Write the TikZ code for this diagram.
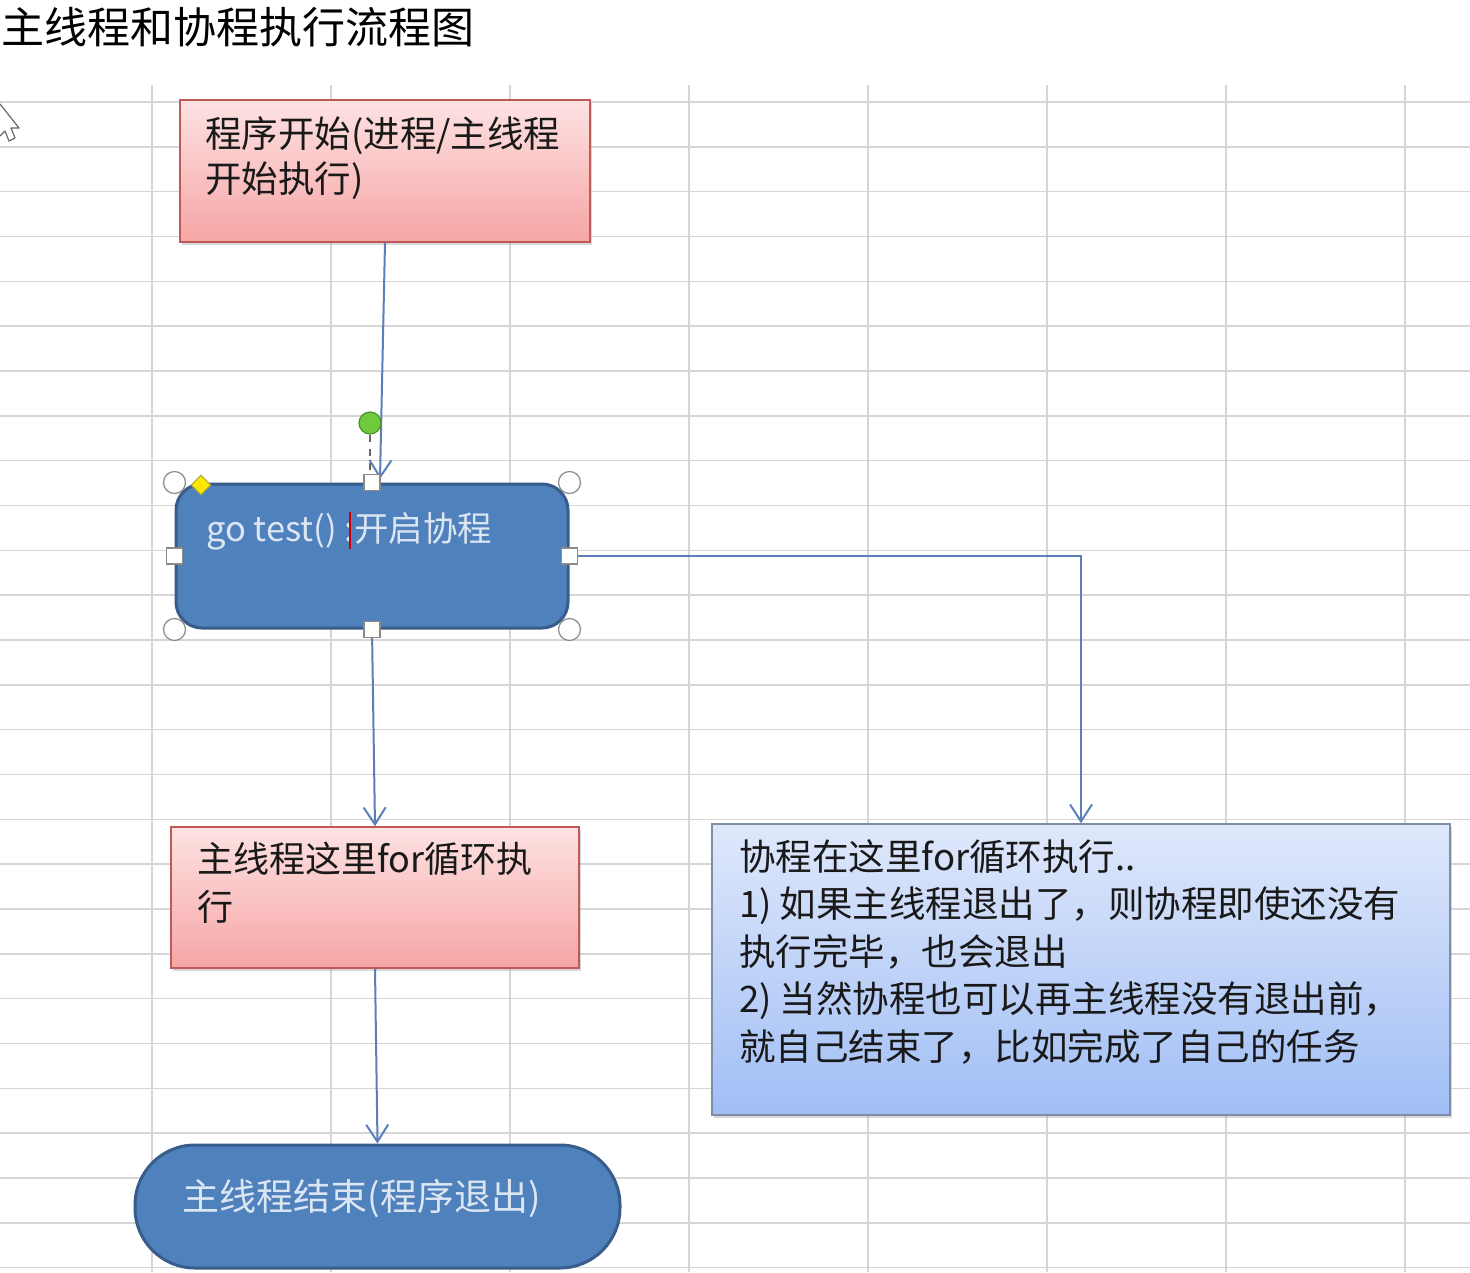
\documentclass[tikz,border=0pt]{standalone}
\usepackage{fontspec}
\setmainfont{Noto Sans CJK SC}
\usetikzlibrary{arrows.meta,shadows,calc,shapes.geometric}
\definecolor{gridc}{HTML}{D6D6D6}
\definecolor{pinktop}{HTML}{FDE2E2}
\definecolor{pinkbot}{HTML}{F6A5A5}
\definecolor{pinkline}{HTML}{BE5A57}
\definecolor{bluetop}{HTML}{DFE8FB}
\definecolor{bluebot}{HTML}{A0BEF5}
\definecolor{blueline}{HTML}{7E8EA6}
\definecolor{shapefill}{HTML}{4F81BD}
\definecolor{shapeline}{HTML}{385D8A}
\definecolor{shapetext}{HTML}{DCE6F2}
\definecolor{connc}{HTML}{5B80B9}
\definecolor{handlec}{HTML}{8A8A8A}
\definecolor{rotfill}{HTML}{6FCB3C}
\definecolor{rotline}{HTML}{4A8F2A}
\begin{document}
\begin{tikzpicture}[x=1pt,y=-1pt,
  gridline/.style={draw=gridc, line width=1.5pt},
  pinkbox/.style={rectangle, draw=pinkline, line width=1.5pt, top color=pinktop, bottom color=pinkbot, inner sep=0pt,
    drop shadow={shadow xshift=2pt, shadow yshift=-3pt, opacity=0.3}},
  notebox/.style={rectangle, draw=blueline, line width=1.5pt, top color=bluetop, bottom color=bluebot, inner sep=0pt,
    drop shadow={shadow xshift=2pt, shadow yshift=-3pt, opacity=0.3}},
  blueshape/.style={draw=shapeline, line width=3pt, fill=shapefill, inner sep=0pt},
  boxtext/.style={inner sep=0pt, align=left, text=black!90, anchor=north west},
  shapetxt/.style={inner sep=0pt, text=shapetext},
  conn/.style={draw=connc, line width=2pt, -{Straight Barb[length=17pt,width=22pt,line width=2pt]}},
  rhandle/.style={circle, draw=handlec, fill=white, line width=1.2pt, minimum size=22pt, inner sep=0pt},
  shandle/.style={rectangle, draw=handlec, fill=white, line width=1.2pt, minimum size=16pt, inner sep=0pt},
]
\useasboundingbox (0,0) rectangle (1470,1272);
\fill[white] (0,0) rectangle (1470,1272);
% grid
\foreach \x in {152,331,510,689,868,1047,1226,1405}
  \draw[gridline] (\x,85) -- (\x,1272);
\foreach \k in {0,...,26}
  \draw[gridline] (0,{102+44.83*\k}) -- (1470,{102+44.83*\k});

% title
\node[anchor=north west, inner sep=0pt, font=\fontsize{43}{50}\selectfont] (title) at (1,7) {主线程和协程执行流程图};

% mouse cursor
\draw[draw=gray!80!black, fill=white, line width=1.2pt, line join=round]
  (0,104) -- (19,128) -- (11,128) -- (15,138) -- (9,141) -- (5,131) -- (0,136);

% boxes
\node[pinkbox, minimum width=410pt, minimum height=142pt] (b1) at (385,171) {};
\node[boxtext, font=\fontsize{36.5}{45}\selectfont] (t1) at (205,116) {程序开始(进程/主线程\\开始执行)};

\node[blueshape, rounded corners=26pt, minimum width=392pt, minimum height=144pt] (b2) at (372,556) {};
\node[shapetxt, anchor=north west, font=\fontsize{34.5}{40}\selectfont] (t2) at (206,512) {go test() :开启协程};

\node[pinkbox, minimum width=408pt, minimum height=141pt] (b3) at (375,897.5) {};
\node[boxtext, font=\fontsize{36}{48}\selectfont] (t3) at (197,842) {主线程这里for循环执\\行};

\node[notebox, minimum width=738pt, minimum height=291pt] (b4) at (1081,969.5) {};
\node[boxtext, font=\fontsize{36.5}{47.5}\selectfont] (t4) at (739,839) {协程在这里for循环执行..\\1) 如果主线程退出了，则协程即使还没有\\执行完毕，也会退出\\2) 当然协程也可以再主线程没有退出前，\\就自己结束了，比如完成了自己的任务};

\node[blueshape, rounded corners=60pt, minimum width=485pt, minimum height=123pt] (b5) at (377.5,1206.5) {};
\node[shapetxt, font=\fontsize{37}{40}\selectfont] (t5) at (362,1198) {主线程结束(程序退出)};

% connectors
\coordinate (tip1) at (380,479);
\draw[conn] (b1.south) -- (tip1);
\draw[conn] (b2.south) -- (b3.north);
\draw[conn] (b3.south) -- (b5.north);
\draw[conn] (b2.east) -| (b4.north);

% selection handles
\node[circle, draw=rotline, fill=rotfill, line width=1.2pt, minimum size=22pt, inner sep=0pt] (rot) at (370,423) {};
\coordinate (rotend) at (370,476);
\draw[draw=black!60, line width=1.5pt, dash pattern=on 7pt off 7pt] (rot.south) -- (rotend);
\foreach \a in {north west,north east,south west,south east}
  \node[rhandle] at (b2.\a) {};
\foreach \a in {north,south,east,west}
  \node[shandle] at (b2.\a) {};
\node[diamond, draw=yellow!60!black, fill=yellow!90!orange, line width=1pt, minimum size=20pt, inner sep=0pt] (adj) at (201,485) {};
\coordinate (cur1) at (350,512);
\coordinate (cur2) at (350,549);
\draw[red!80!black, line width=2pt] (cur1) -- (cur2);
\end{tikzpicture}
\end{document}
